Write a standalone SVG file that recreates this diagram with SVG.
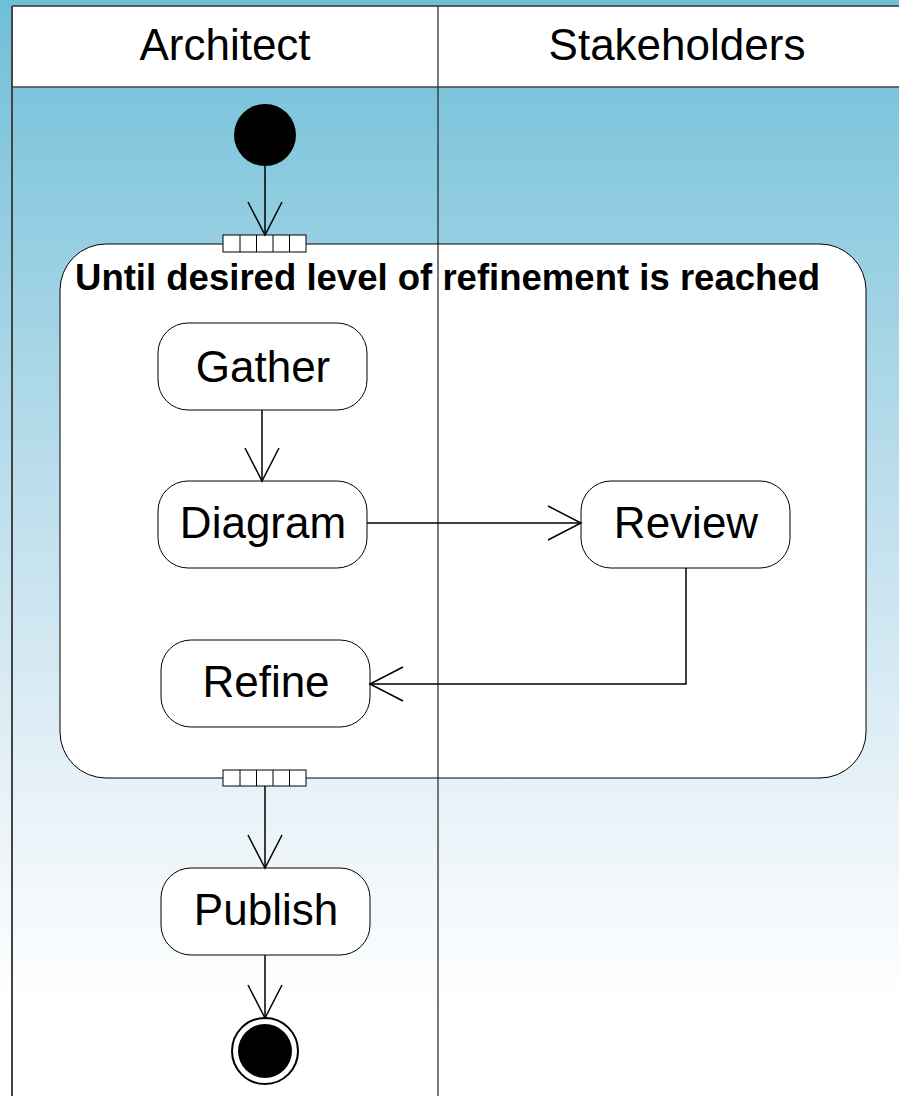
<svg xmlns="http://www.w3.org/2000/svg" width="899" height="1096" viewBox="0 0 899 1096">
<defs>
<linearGradient id="bg" x1="0" y1="0" x2="0" y2="1096" gradientUnits="userSpaceOnUse">
<stop offset="0" stop-color="#6fbfd8"/>
<stop offset="0.4" stop-color="#b5dbea"/>
<stop offset="0.7" stop-color="#e4f0f7"/>
<stop offset="0.92" stop-color="#ffffff"/>
</linearGradient>
<marker id="arr" markerUnits="userSpaceOnUse" markerWidth="40" markerHeight="40" refX="34" refY="18" orient="auto">
<path d="M1,1 L34,18 L1,35" fill="none" stroke="#000" stroke-width="1.5"/>
</marker>
<style>
.txt{font-family:"Liberation Sans",Arial,sans-serif;fill:#000}
.act{fill:#fff;stroke:#000;stroke-width:1}
.ln{fill:none;stroke:#000;stroke-width:1.5}
.pin{fill:#fff;stroke:#000;stroke-width:1}
.lbl{font-size:44px}
</style>
</defs>
<rect x="0" y="0" width="899" height="1096" fill="url(#bg)"/>
<g id="lanes">
<rect x="12" y="6" width="900" height="81" fill="#fff"/>
<line x1="12" y1="6" x2="899" y2="6" stroke="#333" stroke-width="1.5"/>
<line x1="12" y1="87" x2="899" y2="87" stroke="#444" stroke-width="1.5"/>
<line x1="12" y1="6" x2="12" y2="1096" stroke="#444" stroke-width="2"/>
<line x1="438" y1="6" x2="438" y2="1096" stroke="#222" stroke-width="1.2"/>
<text class="txt lbl" x="225" y="60" text-anchor="middle">Architect</text>
<text class="txt lbl" x="677" y="60" text-anchor="middle">Stakeholders</text>
</g>
<g id="loop">
<rect x="60" y="244" width="806" height="534" rx="46" ry="46" fill="#fff" stroke="#000" stroke-width="1"/>
<line x1="438" y1="244" x2="438" y2="778" stroke="#222" stroke-width="1.2"/>
<text class="txt" x="447.5" y="290" font-size="36" font-weight="bold" text-anchor="middle" textLength="745" lengthAdjust="spacingAndGlyphs">Until desired level of refinement is reached</text>
<g id="pin-in">
<rect class="pin" x="223" y="235" width="83" height="17"/>
<path d="M240 235V252M256.5 235V252M273 235V252M289.5 235V252" stroke="#000" stroke-width="1"/>
</g>
<g id="pin-out">
<rect class="pin" x="223" y="770" width="83" height="16"/>
<path d="M240 770V786M256.5 770V786M273 770V786M289.5 770V786" stroke="#000" stroke-width="1"/>
</g>
</g>
<g id="start"><circle cx="265" cy="135" r="31" fill="#000"/></g>
<g id="gather"><rect class="act" x="158" y="323" width="209" height="87" rx="30" ry="30"/><text class="txt lbl" x="263" y="382" text-anchor="middle">Gather</text></g>
<g id="diagram"><rect class="act" x="158" y="481" width="209" height="87" rx="30" ry="30"/><text class="txt lbl" x="263" y="538" text-anchor="middle">Diagram</text></g>
<g id="review"><rect class="act" x="581" y="481" width="209" height="87" rx="30" ry="30"/><text class="txt lbl" x="686" y="538" text-anchor="middle">Review</text></g>
<g id="refine"><rect class="act" x="161" y="640" width="209" height="87" rx="30" ry="30"/><text class="txt lbl" x="266" y="697" text-anchor="middle">Refine</text></g>
<g id="publish"><rect class="act" x="161" y="868" width="209" height="87" rx="30" ry="30"/><text class="txt lbl" x="266" y="925" text-anchor="middle">Publish</text></g>
<g id="final"><circle cx="265" cy="1051" r="33" fill="#fff" stroke="#000" stroke-width="2"/><circle cx="265" cy="1051" r="27" fill="#000"/></g>
<g id="connectors">
<line class="ln" x1="265" y1="166" x2="265" y2="235" marker-end="url(#arr)"/>
<line class="ln" x1="262" y1="410" x2="262" y2="481" marker-end="url(#arr)"/>
<line class="ln" x1="367" y1="523" x2="581" y2="523" marker-end="url(#arr)"/>
<polyline class="ln" points="686,568 686,684 370,684" marker-end="url(#arr)"/>
<line class="ln" x1="265" y1="786" x2="265" y2="868" marker-end="url(#arr)"/>
<line class="ln" x1="265" y1="955" x2="265" y2="1018" marker-end="url(#arr)"/>
</g>
</svg>
